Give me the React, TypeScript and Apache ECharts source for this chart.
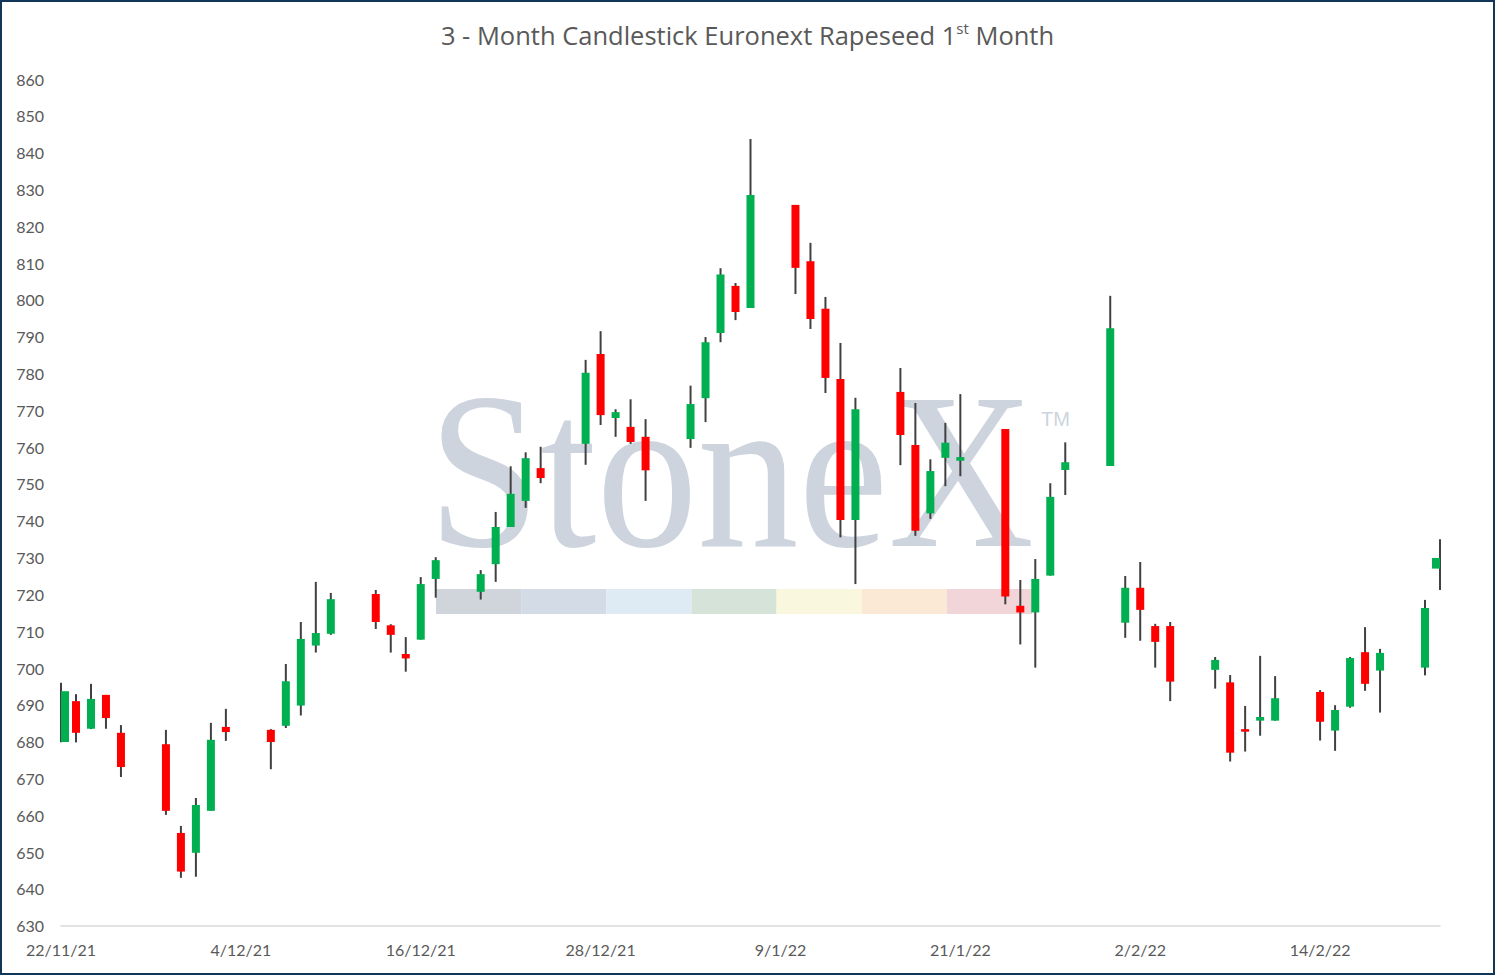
import React, { useEffect, useRef } from 'react';
import * as echarts from 'echarts';

const chartTitle = '3 - Month Candlestick Euronext Rapeseed 1';
const titleSup = 'st';
const titleEnd = ' Month';

const axisStart: [number, number, number] = [2021, 11, 22];
const axisEnd: [number, number, number] = [2022, 2, 22];

const yMin = 630;
const yMax = 860;
const yStep = 10;

const tradeDates = [
  '22/11/21', '23/11/21', '24/11/21', '25/11/21', '26/11/21',
  '29/11/21', '30/11/21', '1/12/21', '2/12/21', '3/12/21',
  '6/12/21', '7/12/21', '8/12/21', '9/12/21', '10/12/21',
  '13/12/21', '14/12/21', '15/12/21', '16/12/21', '17/12/21',
  '20/12/21', '21/12/21', '22/12/21', '23/12/21', '24/12/21',
  '27/12/21', '28/12/21', '29/12/21', '30/12/21', '31/12/21',
  '3/1/22', '4/1/22', '5/1/22', '6/1/22', '7/1/22',
  '10/1/22', '11/1/22', '12/1/22', '13/1/22', '14/1/22',
  '17/1/22', '18/1/22', '19/1/22', '20/1/22', '21/1/22',
  '24/1/22', '25/1/22', '26/1/22', '27/1/22', '28/1/22',
  '31/1/22', '1/2/22', '2/2/22', '3/2/22', '4/2/22',
  '7/2/22', '8/2/22', '9/2/22', '10/2/22', '11/2/22',
  '14/2/22', '15/2/22', '16/2/22', '17/2/22', '18/2/22',
  '21/2/22', '22/2/22',
];

const openPrices = [
  679.9, 691.0, 683.5, 692.7, 682.4,
  679.3, 655.2, 649.8, 661.2, 684.0,
  683.2, 684.3, 689.8, 706.1, 709.3,
  720.1, 711.6, 703.8, 707.7, 724.2,
  720.7, 728.2, 738.3, 745.4, 754.3,
  760.9, 785.3, 767.9, 765.5, 762.8,
  762.2, 773.3, 791.0, 803.8, 797.8,
  825.8, 810.5, 797.6, 778.5, 740.2,
  775.0, 760.6, 742.0, 757.1, 756.3,
  764.9, 716.9, 715.1, 725.1, 753.8,
  754.9, 712.3, 721.8, 711.4, 711.4,
  699.5, 696.1, 683.4, 685.7, 685.7,
  693.5, 683.0, 689.5, 704.3, 699.3,
  700.1, 727.0,
];

const closePrices = [
  693.7, 682.4, 691.6, 686.4, 673.1,
  661.2, 644.7, 662.8, 680.5, 682.6,
  679.9, 696.4, 707.9, 709.5, 718.7,
  712.5, 709.0, 702.6, 722.8, 729.3,
  725.5, 738.3, 747.3, 757.0, 751.6,
  780.2, 768.7, 769.5, 761.4, 753.7,
  771.7, 788.5, 806.9, 796.7, 828.5,
  808.7, 794.8, 778.8, 740.2, 770.3,
  763.3, 737.3, 753.5, 761.2, 757.3,
  719.4, 715.1, 724.2, 746.5, 755.9,
  792.3, 721.8, 715.8, 707.1, 696.3,
  702.2, 677.0, 682.7, 686.7, 691.8,
  685.4, 688.6, 702.7, 695.7, 704.1,
  716.3, 729.9,
];

const lowPrices = [
  679.8, 679.8, 683.4, 683.5, 670.4,
  660.1, 643.0, 643.3, 661.2, 680.2,
  672.5, 683.7, 687.1, 704.2, 709.0,
  710.6, 704.2, 699.0, 707.7, 719.1,
  718.6, 723.4, 738.3, 743.5, 750.2,
  755.2, 766.0, 762.8, 760.9, 745.4,
  759.8, 766.8, 788.5, 794.5, 797.8,
  801.6, 792.1, 774.7, 735.5, 722.8,
  755.1, 735.9, 740.5, 749.4, 752.1,
  717.3, 706.4, 700.1, 725.1, 747.0,
  754.9, 708.2, 707.4, 700.1, 691.0,
  694.4, 674.6, 677.3, 681.6, 685.7,
  680.3, 677.5, 689.2, 693.8, 687.9,
  698.0, 721.2,
];

const highPrices = [
  696.0, 692.9, 695.7, 692.7, 684.5,
  683.2, 657.1, 664.7, 685.1, 688.9,
  683.4, 701.1, 712.5, 723.4, 720.4,
  721.2, 711.9, 708.4, 724.7, 730.1,
  726.6, 742.4, 754.8, 758.6, 760.1,
  783.7, 791.5, 770.3, 773.0, 767.6,
  776.7, 789.9, 808.6, 804.6, 843.7,
  825.8, 815.5, 800.8, 788.3, 773.4,
  781.5, 772.0, 756.7, 766.6, 774.4,
  764.9, 723.9, 729.6, 750.2, 761.3,
  801.1, 725.0, 728.8, 712.0, 712.5,
  703.0, 698.1, 689.7, 703.3, 697.8,
  694.0, 689.9, 703.0, 711.1, 705.2,
  718.5, 735.0,
];

const upColor = '#00B050';
const downColor = '#FF0000';
const wickColor = '#404040';
const textColor = '#595959';

const watermarkBand = ['#d0d5dc', '#d3dce6', '#deebf5', '#d5e3d8', '#f9f7dd', '#fbe8d5', '#f2d5d8'];

function buildCalendar(start: [number, number, number], end: [number, number, number]) {
  const out: string[] = [];
  const d = new Date(Date.UTC(start[0], start[1] - 1, start[2]));
  const e = Date.UTC(end[0], end[1] - 1, end[2]);
  while (d.getTime() <= e) {
    out.push(`${d.getUTCDate()}/${d.getUTCMonth() + 1}/${String(d.getUTCFullYear()).slice(2)}`);
    d.setUTCDate(d.getUTCDate() + 1);
  }
  return out;
}

export default function App() {
  const ref = useRef<HTMLDivElement>(null);

  useEffect(() => {
    if (!ref.current) return;
    const chart = echarts.init(ref.current, undefined, { renderer: 'svg' });
    const calendar = buildCalendar(axisStart, axisEnd);
    const data = tradeDates.map((d, i) => [
      calendar.indexOf(d),
      openPrices[i],
      closePrices[i],
      lowPrices[i],
      highPrices[i],
    ]);

    const bandX0 = 436;
    const bandW = (1032 - 436) / watermarkBand.length;

    const graphics: any[] = [
      {
        type: 'text',
        x: 428,
        y: 471,
        scaleX: 0.91,
        z: 0,
        silent: true,
        style: {
          text: 'StoneX',
          x: 0,
          y: 0,
          font: '222px "Liberation Serif"',
          fill: '#cdd4dd',
          verticalAlign: 'middle',
          align: 'left',
        },
      },
      {
        type: 'text',
        x: 1041,
        y: 419,
        z: 0,
        silent: true,
        style: {
          text: 'TM',
          font: '20px "Liberation Sans"',
          fill: '#cdd4dd',
          verticalAlign: 'middle',
          align: 'left',
        },
      },
      ...watermarkBand.map((c, i) => ({
        type: 'rect',
        z: 0,
        silent: true,
        shape: { x: bandX0 + i * bandW, y: 589, width: bandW, height: 25 },
        style: { fill: c },
      })),
      {
        type: 'rect',
        z: 100,
        silent: true,
        shape: { x: 1, y: 1, width: 1493, height: 973 },
        style: { fill: 'none', stroke: '#12365a', lineWidth: 2 },
      },
    ];

    chart.setOption({
      animation: false,
      backgroundColor: '#ffffff',
      title: {
        text: `{t|${chartTitle}}{s|${titleSup}}{t|${titleEnd}}`,
        left: 'center',
        top: 15,
        textStyle: {
          fontWeight: 'normal',
          rich: {
            t: { fontFamily: 'Open Sans', fontSize: 25.5, fontWeight: 'normal', color: textColor, lineHeight: 30 },
            s: { fontFamily: 'Open Sans', fontSize: 15, fontWeight: 'normal', color: textColor, lineHeight: 17, verticalAlign: 'top' },
          },
        },
      },
      graphic: graphics,
      grid: { left: 61, right: 55, top: 79, bottom: 49.3, containLabel: false },
      xAxis: {
        type: 'category',
        data: calendar,
        boundaryGap: false,
        axisLine: { show: true, lineStyle: { color: '#d9d9d9', width: 1.5 } },
        axisTick: { show: false },
        splitLine: { show: false },
        axisLabel: {
          interval: 11,
          fontFamily: 'Lato',
          fontSize: 16,
          color: textColor,
          margin: 16,
        },
      },
      yAxis: {
        type: 'value',
        min: yMin,
        max: yMax,
        interval: yStep,
        axisLine: { show: false },
        axisTick: { show: false },
        splitLine: { show: false },
        axisLabel: { fontFamily: 'Lato', fontSize: 16, color: textColor, margin: 17 },
      },
      series: [
        {
          type: 'custom',
          name: 'Rapeseed',
          z: 5,
          encode: { x: 0, y: [1, 2, 3, 4] },
          data,
          renderItem: (params: any, api: any) => {
            const x = api.value(0);
            const o = api.value(1);
            const c = api.value(2);
            const l = api.value(3);
            const h = api.value(4);
            const pO = api.coord([x, o]);
            const pC = api.coord([x, c]);
            const pL = api.coord([x, l]);
            const pH = api.coord([x, h]);
            const cs = params.coordSys;
            const bw = 8;
            let bx = pO[0] - bw / 2;
            bx = Math.max(cs.x, Math.min(cs.x + cs.width - bw, bx));
            const top = Math.min(pO[1], pC[1]);
            const hgt = Math.max(Math.abs(pO[1] - pC[1]), 1.5);
            return {
              type: 'group',
              children: [
                {
                  type: 'line',
                  shape: { x1: pL[0], y1: pL[1], x2: pH[0], y2: pH[1] },
                  style: { stroke: wickColor, lineWidth: 2 },
                },
                {
                  type: 'rect',
                  shape: { x: bx, y: top, width: bw, height: hgt },
                  style: { fill: c >= o ? upColor : downColor },
                },
              ],
            };
          },
        },
      ],
    });

    return () => {
      chart.dispose();
    };
  }, []);

  return (
    <div
      ref={ref}
      style={{ position: 'fixed', left: 0, top: 0, width: 1495, height: 975, background: '#fff' }}
    />
  );
}
